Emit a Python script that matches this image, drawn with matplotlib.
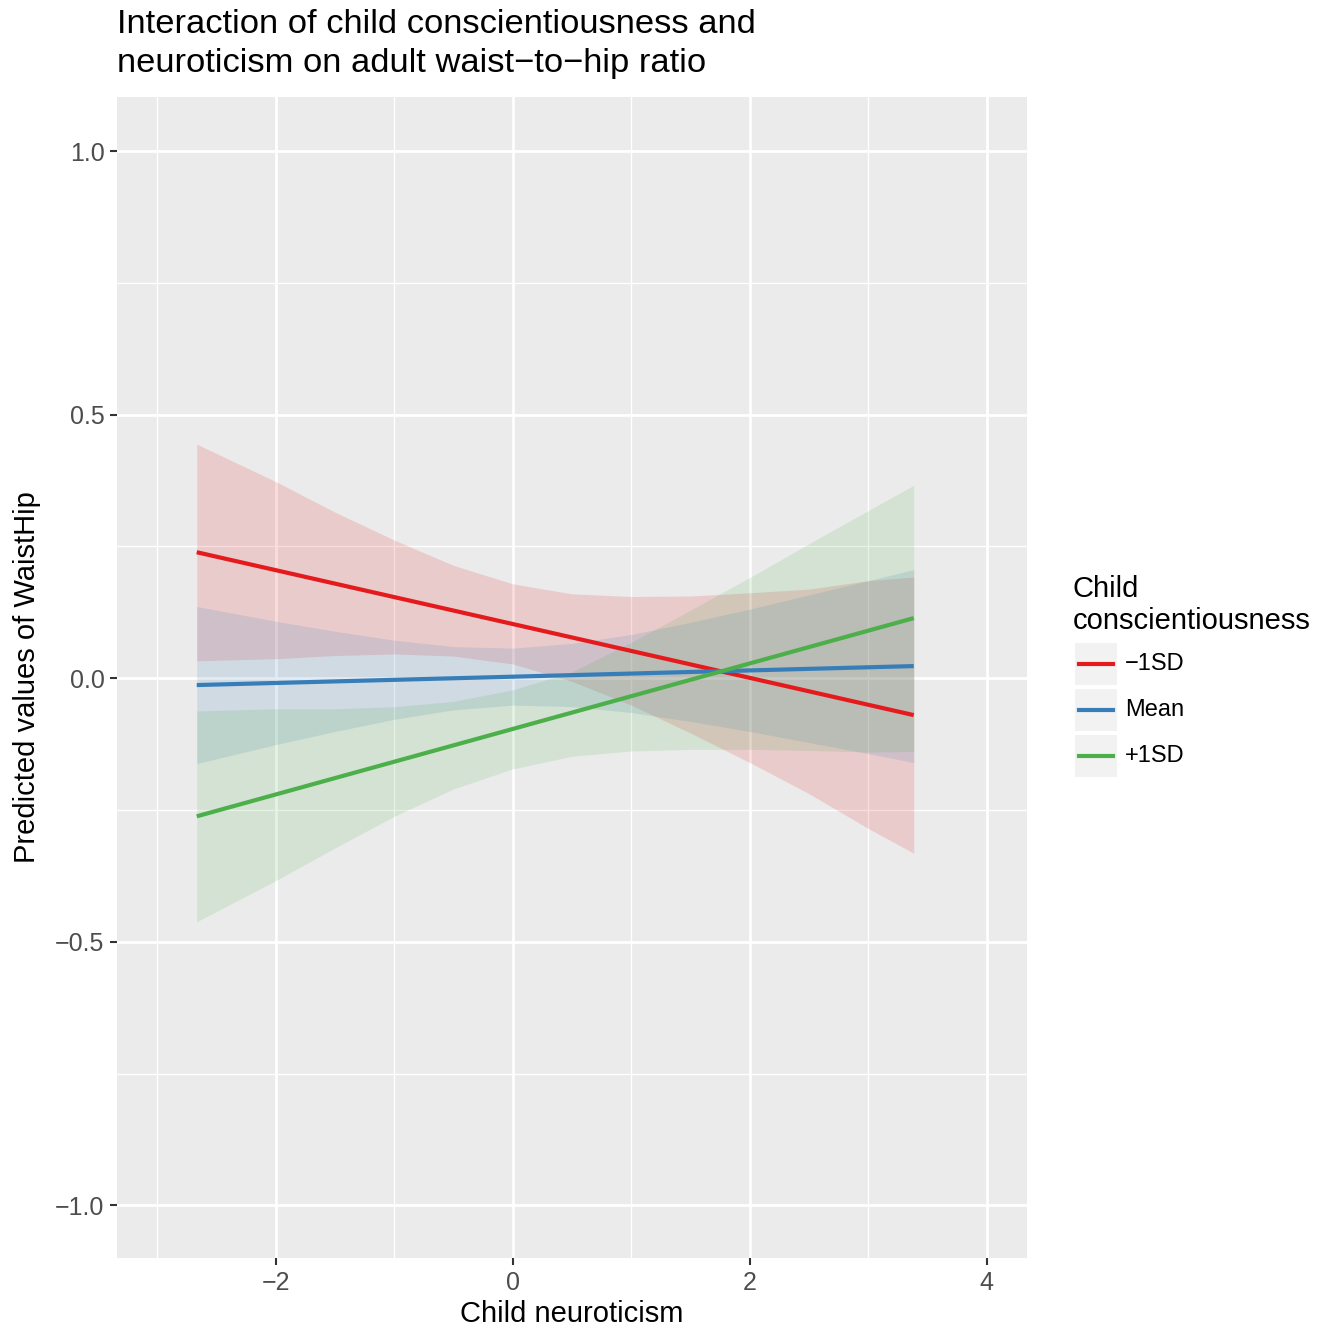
import matplotlib
matplotlib.use("Agg")
import matplotlib.pyplot as plt
from matplotlib.patches import Rectangle
from matplotlib.lines import Line2D

plt.rcParams['font.family'] = ['Liberation Sans', 'DejaVu Sans']

# neuroticism values where the band edges were read
X_BAND = [-2.667, -2.0, -1.5, -1.0, -0.5, 0.0, 0.5, 1.0, 1.5, 2.0, 2.5, 3.0, 3.384]
# fitted lines are straight: endpoints only
X_LINE = [-2.667, 3.384]

GROUPS = ["\u22121SD", "Mean", "+1SD"]
COLORS = ["#E41A1C", "#377EB8", "#4DAF4A"]

LINE_LOW = [0.239, -0.070]
LINE_MEAN = [-0.013, 0.023]
LINE_HIGH = [-0.262, 0.114]

UPPER_LOW = [0.444, 0.373, 0.315, 0.262, 0.214, 0.179, 0.160, 0.155, 0.156, 0.162, 0.169, 0.185, 0.192]
LOWER_LOW = [0.033, 0.037, 0.043, 0.046, 0.042, 0.027, -0.006, -0.051, -0.104, -0.160, -0.219, -0.285, -0.332]
UPPER_MEAN = [0.136, 0.108, 0.089, 0.072, 0.060, 0.057, 0.066, 0.083, 0.106, 0.131, 0.158, 0.185, 0.206]
LOWER_MEAN = [-0.162, -0.126, -0.101, -0.078, -0.060, -0.051, -0.054, -0.065, -0.082, -0.101, -0.122, -0.143, -0.160]
UPPER_HIGH = [-0.062, -0.058, -0.058, -0.054, -0.044, -0.022, 0.012, 0.068, 0.129, 0.191, 0.255, 0.318, 0.366]
LOWER_HIGH = [-0.462, -0.384, -0.322, -0.262, -0.210, -0.172, -0.148, -0.138, -0.135, -0.135, -0.137, -0.140, -0.139]

lines = [LINE_LOW, LINE_MEAN, LINE_HIGH]
uppers = [UPPER_LOW, UPPER_MEAN, UPPER_HIGH]
lowers = [LOWER_LOW, LOWER_MEAN, LOWER_HIGH]

fig = plt.figure(figsize=(13.31, 13.31), dpi=100)
ax = fig.add_axes([0.0879, 0.0548, 0.6837, 0.8723])
ax.set_facecolor("#EBEBEB")

for up, lo, col in zip(uppers, lowers, COLORS):
    ax.fill_between(X_BAND, lo, up, color=col, alpha=0.15, linewidth=0, zorder=2)
for ys, col in zip(lines, COLORS):
    ax.plot(X_LINE, ys, color=col, linewidth=3, solid_capstyle="butt", zorder=3)

ax.set_xlim(-3.34, 4.34)
ax.set_ylim(-1.1, 1.1025)
ax.set_xticks([-2, 0, 2, 4])
ax.set_xticklabels(["\u22122", "0", "2", "4"])
ax.set_yticks([-1.0, -0.5, 0.0, 0.5, 1.0])
ax.set_yticklabels(["\u22121.0", "\u22120.5", "0.0", "0.5", "1.0"])
ax.set_xticks([-3, -1, 1, 3], minor=True)
ax.set_yticks([-0.75, -0.25, 0.25, 0.75], minor=True)
ax.grid(which="major", color="white", linewidth=2.0, zorder=1)
ax.grid(which="minor", color="white", linewidth=1.0, zorder=1)
ax.set_axisbelow(True)
for s in ax.spines.values():
    s.set_visible(False)
ax.tick_params(which="major", length=5, width=1.5, color="#333333",
               labelsize=18, labelcolor="#4D4D4D", pad=4)
ax.tick_params(which="minor", length=0)

ax.set_xlabel("Child neuroticism", fontsize=21, labelpad=4)
ax.set_ylabel("Predicted values of WaistHip", fontsize=21, labelpad=10)
fig.text(0.0879, 1 - 9 / 1331, "Interaction of child conscientiousness and\nneuroticism on adult waist\u2212to\u2212hip ratio",
         fontsize=24.8, ha="left", va="top", linespacing=1.33)

# legend drawn by hand, ggplot style
W, H = 1331.0, 1331.0
fig.text(1073 / W, 1 - 605 / H, "Child\nconscientiousness", fontsize=21,
         ha="left", va="center", linespacing=1.15)
for i, (g, col) in enumerate(zip(GROUPS, COLORS)):
    top = 643 + i * 46
    fig.patches.append(Rectangle((1075 / W, 1 - (top + 42) / H), 42 / W, 42 / H,
                                 transform=fig.transFigure, facecolor="#F2F2F2",
                                 edgecolor="none"))
    yc = 1 - (top + 21) / H
    fig.lines.append(Line2D([1079 / W, 1113 / W], [yc, yc], transform=fig.transFigure,
                            color=col, linewidth=3))
    fig.text(1125 / W, yc, g, fontsize=17, ha="left", va="center")

fig.savefig("out.png", dpi=100)
